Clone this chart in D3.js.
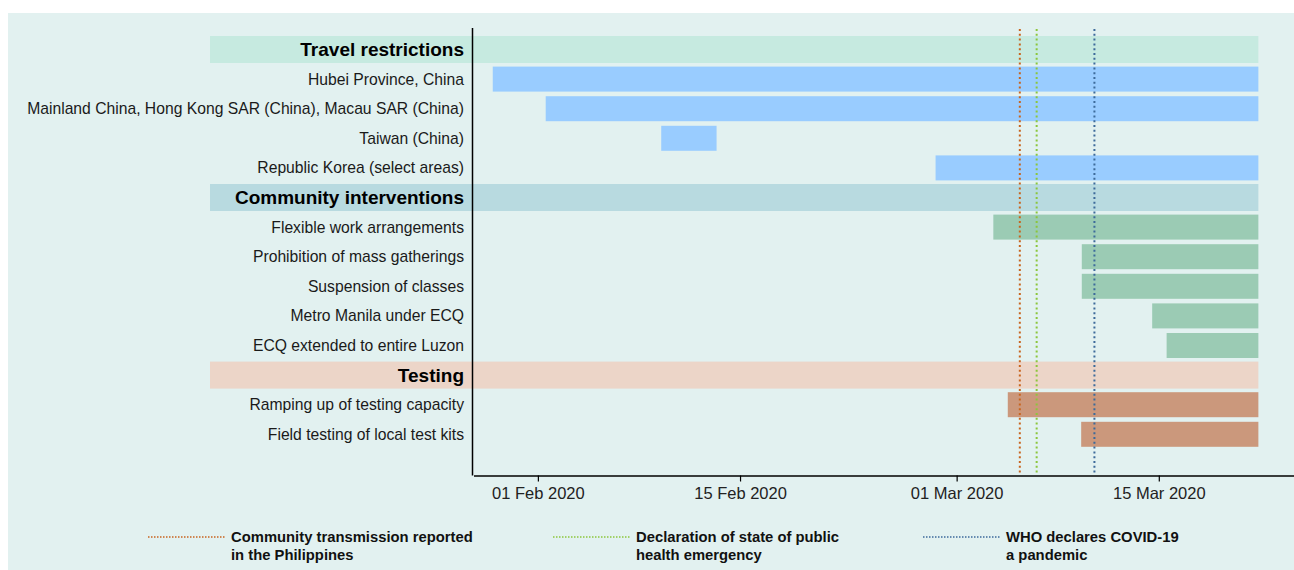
<!DOCTYPE html>
<html>
<head>
<meta charset="utf-8">
<script src="https://cdn.jsdelivr.net/npm/d3@7"></script>
<style>
  body { margin: 0; background: #fff; }
  text { font-family: "Liberation Sans", Arial, sans-serif; }
</style>
</head>
<body>
<script>

// section headers and the measures under each one
const groups = ["Travel restrictions", "Community interventions", "Testing"];
const groupColors = ["#c6eae0", "#b8dae0", "#ecd5c8"];
const barColors = ["#99ccff", "#9bcbb4", "#cb987c"];

const measures = [
    "Hubei Province, China",
    "Mainland China, Hong Kong SAR (China), Macau SAR (China)",
    "Taiwan (China)",
    "Republic Korea (select areas)",
    "Flexible work arrangements",
    "Prohibition of mass gatherings",
    "Suspension of classes",
    "Metro Manila under ECQ",
    "ECQ extended to entire Luzon",
    "Ramping up of testing capacity",
    "Field testing of local test kits"
];
const measureGroup = [0, 0, 0, 0, 1, 1, 1, 1, 1, 2, 2];
const startDates = [
    "2020-01-29T08:00", "2020-02-02T00:00", "2020-02-10T00:00", "2020-02-29T00:00",
    "2020-03-04T00:00", "2020-03-10T03:00", "2020-03-10T03:00", "2020-03-15T00:00",
    "2020-03-16T00:00", "2020-03-05T00:00", "2020-03-10T02:00"
];
const endDates = [
    "2020-03-22T08:30", "2020-03-22T08:30", "2020-02-13T20:00", "2020-03-22T08:30",
    "2020-03-22T08:30", "2020-03-22T08:30", "2020-03-22T08:30", "2020-03-22T08:30",
    "2020-03-22T08:30", "2020-03-22T08:30", "2020-03-22T08:30"
];
const chartEnd = "2020-03-22T08:30";

// reference events (dotted lines)
const eventLabels = [
    ["Community transmission reported", "in the Philippines"],
    ["Declaration of state of public", "health emergency"],
    ["WHO declares COVID-19", "a pandemic"]
];
const eventDates = ["2020-03-05T20:00", "2020-03-07T00:00", "2020-03-11T00:00"];
const eventColors = ["#c8641e", "#8cc63c", "#3d6a9a"];

const tickDates = ["2020-02-01T11:00", "2020-02-15T11:00", "2020-03-01T11:00", "2020-03-15T11:00"];

const parse = d3.utcParse("%Y-%m-%dT%H:%M");

const width = 1294, height = 570;
const svg = d3.select("body").append("svg")
    .attr("width", width)
    .attr("height", height);

svg.append("rect")
    .attr("x", 8).attr("y", 13)
    .attr("width", width - 8).attr("height", height - 13)
    .attr("fill", "#e2f1f0");

// rows: header, then its measures
const rows = [];
groups.forEach((g, gi) => {
    rows.push({ name: g, header: true, group: gi });
    measures.forEach((m, i) => {
        if (measureGroup[i] === gi) {
            rows.push({ name: m, header: false, group: gi, start: parse(startDates[i]), end: parse(endDates[i]) });
        }
    });
});

const x = d3.scaleUtc()
    .domain([parse("2020-01-28T00:00"), parse("2020-03-25T00:00")])
    .range([473.5, 473.5 + 57 * 14.44]);

const y = d3.scaleBand()
    .domain(rows.map(d => d.name))
    .range([34.7, 449.1])
    .padding(0);

const axisY = 475.5;
const labelX = 464;
const headerLeft = 210;

// header bands
svg.selectAll(".band")
    .data(rows.filter(d => d.header))
    .enter().append("rect")
    .attr("class", "band")
    .attr("x", headerLeft)
    .attr("y", d => y(d.name) + y.bandwidth() / 2 - 13.5)
    .attr("width", x(parse(chartEnd)) - headerLeft)
    .attr("height", 27)
    .attr("fill", d => groupColors[d.group]);

// bars
svg.selectAll(".bar")
    .data(rows.filter(d => !d.header))
    .enter().append("rect")
    .attr("class", "bar")
    .attr("x", d => x(d.start))
    .attr("y", d => y(d.name) + y.bandwidth() / 2 - 12.5)
    .attr("width", d => x(d.end) - x(d.start))
    .attr("height", 25)
    .attr("fill", d => barColors[d.group]);

// row labels
svg.selectAll(".row-label")
    .data(rows)
    .enter().append("text")
    .attr("class", "row-label")
    .attr("x", labelX)
    .attr("y", d => y(d.name) + y.bandwidth() / 2)
    .attr("dy", d => d.header ? "0.36em" : "0.35em")
    .attr("text-anchor", "end")
    .style("font-size", d => d.header ? "19px" : "15.7px")
    .style("font-weight", d => d.header ? "bold" : "normal")
    .attr("fill", d => d.header ? "#000" : "#1a1a1a")
    .text(d => d.name);

// event lines
svg.selectAll(".event")
    .data(eventDates)
    .enter().append("line")
    .attr("class", "event")
    .attr("x1", d => x(parse(d)))
    .attr("x2", d => x(parse(d)))
    .attr("y1", 29)
    .attr("y2", axisY)
    .attr("stroke", (d, i) => eventColors[i])
    .attr("stroke-width", 2)
    .attr("stroke-dasharray", "2,2.8");

// axes
svg.append("line")
    .attr("x1", x.range()[0] - 1).attr("x2", x.range()[0] - 1)
    .attr("y1", 28).attr("y2", axisY)
    .attr("stroke", "#000")
    .attr("stroke-width", 1.5);

const xAxis = svg.append("g")
    .attr("transform", `translate(0,${axisY})`)
    .call(d3.axisBottom(x)
        .tickValues(tickDates.map(parse))
        .tickFormat(d3.utcFormat("%d %b %Y"))
        .tickSize(6)
        .tickSizeOuter(0));

xAxis.select(".domain").attr("stroke", "#000").attr("stroke-width", 1.5);
xAxis.selectAll(".tick line").attr("stroke", "#000").attr("stroke-width", 1.2);
xAxis.selectAll(".tick text")
    .attr("y", 12)
    .style("font-family", "'Liberation Sans', Arial, sans-serif")
    .style("font-size", "16.5px")
    .attr("fill", "#222");

// legend
const legendX = [148, 553, 923];
const legend = svg.selectAll(".legend")
    .data(eventLabels)
    .enter().append("g")
    .attr("class", "legend")
    .attr("transform", (d, i) => `translate(${legendX[i]},537)`);

legend.append("line")
    .attr("x1", 0).attr("x2", 77)
    .attr("stroke", (d, i) => eventColors[i])
    .attr("stroke-width", 1.5)
    .attr("stroke-dasharray", "1.5,1.5");

legend.append("text")
    .attr("x", 83)
    .attr("y", 5)
    .style("font-size", "14.8px")
    .style("font-weight", "bold")
    .attr("fill", "#111")
    .selectAll("tspan")
    .data(d => d)
    .enter().append("tspan")
    .attr("x", 83)
    .attr("dy", (d, i) => i === 0 ? 0 : 18)
    .text(d => d);

</script>
</body>
</html>
